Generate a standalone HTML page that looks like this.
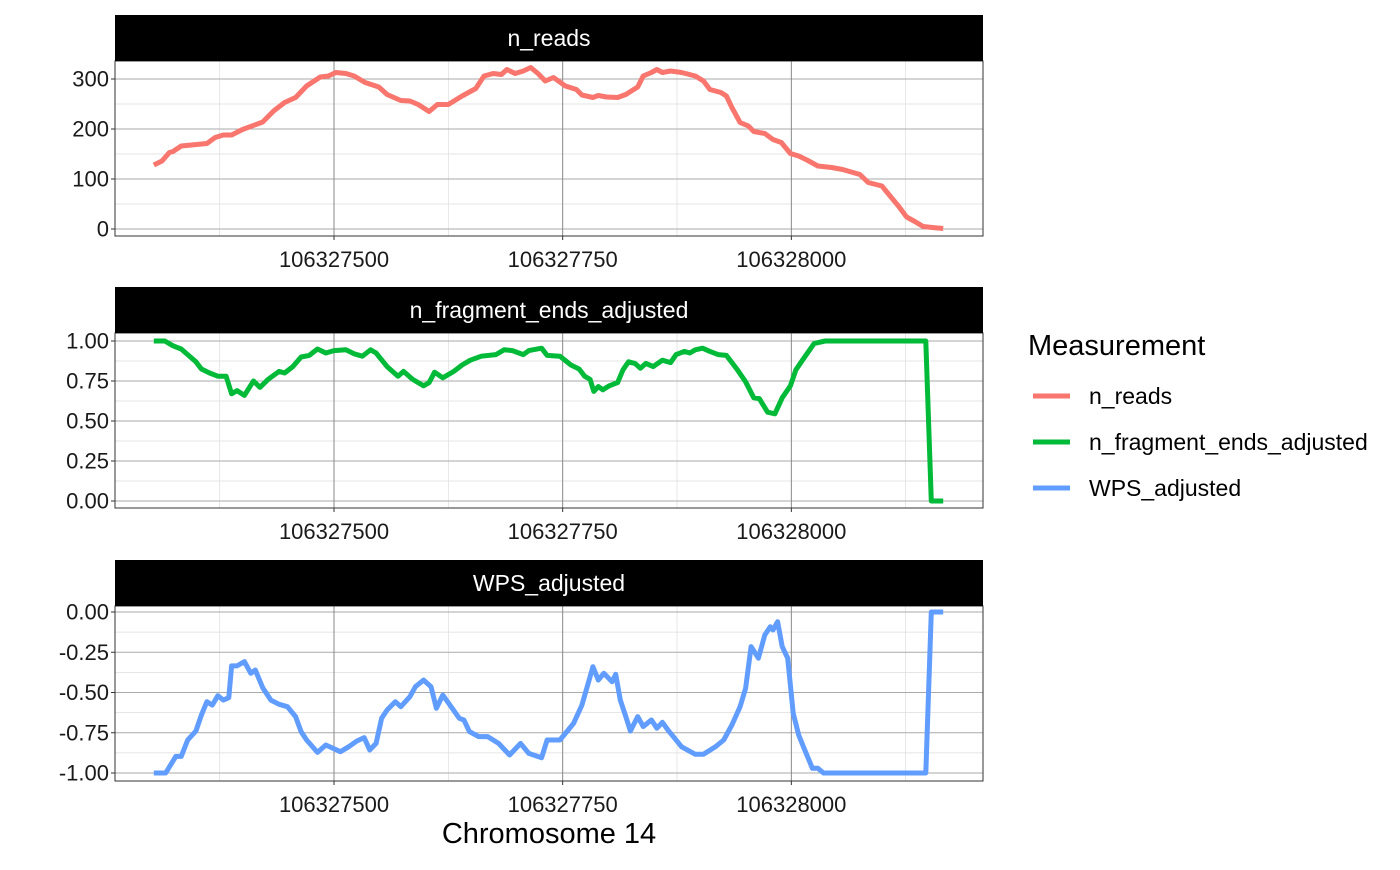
<!DOCTYPE html>
<html><head><meta charset="utf-8"><style>
body{margin:0;background:#fff;}
svg text{font-family:"Liberation Sans",Arial,sans-serif;}
</style></head><body>
<svg id="chart" width="1400" height="865" xmlns="http://www.w3.org/2000/svg"></svg>
<script>
const BASE = 106327000;
const xTickVals = [106327500, 106327750, 106328000];
const xMinorVals = [106327375, 106327625, 106327875, 106328125];
const readsPos = [303,312,320,324,333,361,370,379,388,400,422,434,446,458,470,485,494,502,513,522,534,549,558,573,583,592,604,613,625,640,655,664,674,683,689,698,707,715,723,731,740,753,765,771,783,789,798,810,819,832,838,847,853,859,868,880,895,904,911,923,929,935,944,953,959,971,980,989,999,1008,1017,1029,1044,1056,1075,1084,1099,1108,1117,1126,1135,1144,1154,1166];
const readsVal = [128,136,153,155,166,171,183,188,188,199,214,236,253,263,286,304,306,313,311,306,293,284,269,257,256,249,235,249,249,266,281,306,311,309,319,311,316,323,311,296,303,286,279,268,263,267,264,263,269,284,306,313,319,313,316,313,306,296,279,273,266,243,213,206,195,191,179,173,151,146,138,126,123,119,109,93,86,66,46,24,15,5,3,1];
const fragPos = [303,315,324,333,343,349,355,364,373,382,388,394,402,412,419,428,440,446,455,464,473,482,491,500,513,522,531,540,546,558,570,576,586,598,604,610,619,631,640,649,661,677,686,695,707,713,727,733,747,759,768,774,780,784,789,794,801,810,816,822,829,835,841,849,859,868,874,883,889,895,903,911,920,929,941,950,959,965,974,982,990,999,1005,1014,1025,1037,1147,1153,1166];
const fragVal = [1.0,1.0,0.97,0.95,0.9,0.87,0.825,0.8,0.78,0.78,0.67,0.69,0.66,0.75,0.71,0.76,0.81,0.8,0.84,0.9,0.91,0.95,0.925,0.94,0.945,0.92,0.905,0.945,0.925,0.84,0.78,0.81,0.76,0.72,0.74,0.805,0.77,0.81,0.85,0.88,0.905,0.915,0.945,0.94,0.915,0.94,0.955,0.91,0.905,0.85,0.825,0.78,0.76,0.685,0.715,0.695,0.72,0.74,0.82,0.87,0.86,0.83,0.86,0.84,0.88,0.865,0.915,0.935,0.925,0.945,0.955,0.935,0.915,0.91,0.82,0.745,0.645,0.64,0.555,0.545,0.645,0.72,0.82,0.895,0.985,1.0,1.0,0.0,0.0];
const wpsPos = [303,316,327,333,340,349,355,361,367,373,379,385,388,394,402,409,414,422,431,440,449,458,464,470,482,491,507,516,525,533,539,546,552,558,567,573,583,589,598,606,612,619,628,637,642,648,658,668,680,692,704,713,727,733,747,756,762,771,780,783,789,795,804,808,813,819,824,832,838,847,853,859,865,871,880,895,904,917,926,935,944,950,956,964,971,977,980,985,990,996,1002,1008,1014,1023,1029,1035,1147,1153,1166];
const wpsVal = [-1.0,-1.0,-0.897,-0.897,-0.795,-0.739,-0.64,-0.557,-0.578,-0.52,-0.547,-0.532,-0.335,-0.335,-0.308,-0.381,-0.36,-0.47,-0.547,-0.573,-0.588,-0.65,-0.743,-0.795,-0.872,-0.826,-0.868,-0.837,-0.801,-0.78,-0.857,-0.816,-0.66,-0.609,-0.557,-0.588,-0.526,-0.464,-0.423,-0.464,-0.598,-0.516,-0.588,-0.66,-0.671,-0.743,-0.774,-0.774,-0.816,-0.888,-0.816,-0.878,-0.905,-0.795,-0.795,-0.733,-0.691,-0.578,-0.402,-0.34,-0.423,-0.381,-0.433,-0.387,-0.547,-0.65,-0.739,-0.65,-0.712,-0.671,-0.722,-0.685,-0.733,-0.774,-0.837,-0.884,-0.884,-0.837,-0.795,-0.702,-0.588,-0.474,-0.215,-0.287,-0.143,-0.091,-0.112,-0.06,-0.215,-0.287,-0.629,-0.764,-0.847,-0.971,-0.971,-1.0,-1.0,0.0,0.0];
const readsTicks = [0,100,200,300], readsMinor=[50,150,250];
const fracTicks = [0,0.25,0.5,0.75,1.0], fracMinor=[0.125,0.375,0.625,0.875];
const wpsTicks = [-1,-0.75,-0.5,-0.25,0], wpsMinor=[-0.875,-0.625,-0.375,-0.125];

const NS="http://www.w3.org/2000/svg";
const svg=document.getElementById('chart');
const X0=115,X1=983;
function xs(g){return 334+(g-106327500)*228.67/250;}
function mk(tag,attrs,parent){const e=document.createElementNS(NS,tag);for(const k in attrs)e.setAttribute(k,attrs[k]);(parent||svg).appendChild(e);return e;}

const panels=[
 {name:'n_reads',top:15,y0:229,yk:0.5,ticks:readsTicks,minor:readsMinor,fmt:v=>String(v),pos:readsPos,val:readsVal,color:'#F8766D'},
 {name:'n_fragment_ends_adjusted',top:287,y0:501,yk:160,ticks:fracTicks,minor:fracMinor,fmt:v=>v.toFixed(2),pos:fragPos,val:fragVal,color:'#00BA38'},
 {name:'WPS_adjusted',top:560,y0:612,yk:161,ticks:wpsTicks,minor:wpsMinor,fmt:v=>v.toFixed(2),pos:wpsPos,val:wpsVal,color:'#619CFF'}
];
panels.forEach((p,i)=>{
 const g=mk('g',{});
 
 
 const pt=p.top+46, pb=pt+175;
 const ys=v=>p.y0-v*p.yk;
 mk('rect',{x:X0,y:pt,width:X1-X0,height:pb-pt,fill:'#fff'},g);
 p.minor.forEach(v=>mk('line',{x1:X0,x2:X1,y1:ys(v),y2:ys(v),stroke:'#ddd','stroke-width':0.7},g));
 xMinorVals.forEach(v=>mk('line',{x1:xs(v),x2:xs(v),y1:pt,y2:pb,stroke:'#ddd','stroke-width':0.7},g));
 p.ticks.forEach(v=>{
   mk('line',{x1:X0,x2:X1,y1:ys(v),y2:ys(v),stroke:'#aaa','stroke-width':1},g);
   mk('line',{x1:X0-4,x2:X0,y1:ys(v),y2:ys(v),stroke:'#333','stroke-width':1},g);
   const t=mk('text',{x:X0-6,y:ys(v)+7.5,'text-anchor':'end','font-size':22,fill:'#1a1a1a'},g);
   t.textContent=p.fmt(v);
   
   
 });
 xTickVals.forEach(v=>{
   mk('line',{x1:xs(v),x2:xs(v),y1:pt,y2:pb,stroke:'#888','stroke-width':1},g);
   mk('line',{x1:xs(v),x2:xs(v),y1:pb,y2:pb+4,stroke:'#333','stroke-width':1},g);
   const t=mk('text',{x:xs(v),y:pb+31,'text-anchor':'middle','font-size':22,fill:'#1a1a1a'},g);
   t.textContent=String(v);
   
   
 });
 const d=p.pos.map((q,j)=>(j?'L':'M')+xs(BASE+q).toFixed(1)+','+ys(p.val[j]).toFixed(1)).join('');
 const line=mk('path',{d:d,fill:'none',stroke:p.color,'stroke-width':5,'stroke-linejoin':'round'},g);
 
 
 mk('rect',{x:X0,y:pt,width:X1-X0,height:pb-pt,fill:'none',stroke:'#333','stroke-width':1},g);
 const strip=mk('rect',{x:X0,y:p.top,width:X1-X0,height:46,fill:'#000'},g);
 
 
 const st=mk('text',{x:(X0+X1)/2,y:p.top+31,'text-anchor':'middle','font-size':23,fill:'#fff'},g);
 st.textContent=p.name;
 
 
});
const xt=mk('text',{x:549,y:843,'text-anchor':'middle','font-size':29,fill:'#000'});
xt.textContent='Chromosome 14';


const lt=mk('text',{x:1028,y:355,'font-size':29,fill:'#000'});
lt.textContent='Measurement';


panels.forEach((p,i)=>{
 const y=396+i*46;
 const lg=mk('g',{});
 
 
 mk('line',{x1:1033,x2:1070,y1:y,y2:y,stroke:p.color,'stroke-width':5},lg);
 const t=mk('text',{x:1089,y:y+8,'font-size':23,fill:'#000'},lg);
 t.textContent=p.name;
});
</script>
</body></html>
